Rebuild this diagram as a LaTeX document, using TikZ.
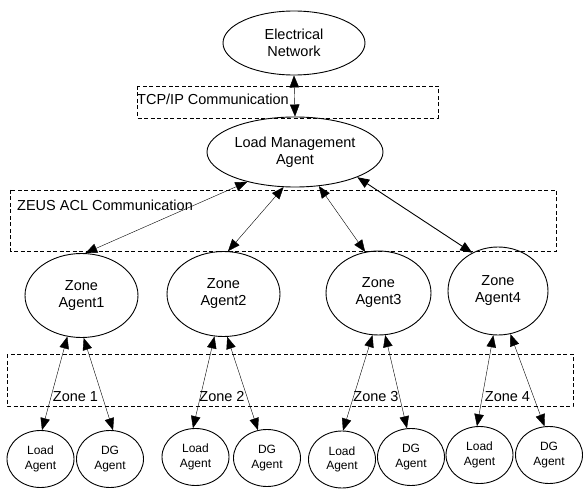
\documentclass[tikz,border=0pt]{standalone}
\usepackage{fontspec}
\setmainfont{Liberation Sans}
\usetikzlibrary{shapes.geometric,arrows.meta}

\begin{document}
\begin{tikzpicture}[x=1pt, y=-1pt,
    every node/.style={font=\fontsize{14.5}{17}\selectfont, align=center},
    agent/.style={draw, ellipse, line width=0.9pt, inner sep=0pt},
    small/.style={agent, minimum width=67pt, minimum height=57pt, font=\fontsize{12}{14.5}\selectfont},
    commbox/.style={draw, dash pattern=on 4pt off 2.5pt, line width=0.6pt},
    link/.style={{Triangle[length=12pt,width=9.5pt]}-{Triangle[length=12pt,width=9.5pt]}, line width=0.4pt}]
    \useasboundingbox (0,0) rectangle (584,489);

    % communication layers
    \draw[commbox] (137,86) rectangle (438,118);
    \draw[commbox] (10,190) rectangle (556,251);
    \draw[commbox] (7,354) rectangle (573,406);
    \node[anchor=west, inner sep=0pt] (tcp) at (137,99) {TCP/IP Communication};
    \node[anchor=west, inner sep=0pt] (zeus) at (17,205) {ZEUS ACL Communication};
    \foreach \z/\x in {1/75.5, 2/222, 3/376, 4/507.5}
        \node[inner sep=0pt] (zlab\z) at (\x,397) {Zone \z};

    % agents
    \node[agent, minimum width=142pt, minimum height=64pt] (grid) at (294,43) {Electrical\\Network};
    \node[agent, minimum width=176pt, minimum height=70pt] (lma) at (295,152) {Load Management\\Agent};
    \node[agent, minimum width=113pt, minimum height=84pt] (za1) at (81.5,295.5) {Zone\\Agent1};
    \node[agent, minimum width=113pt, minimum height=85pt] (za2) at (223.5,294) {Zone\\Agent2};
    \node[agent, minimum width=105pt, minimum height=84pt] (za3) at (378.5,293) {Zone\\Agent3};
    \node[agent, minimum width=100pt, minimum height=88pt] (za4) at (498,291) {Zone\\Agent4};

    \node[small] (load1) at (40.5,459) {Load\\Agent};
    \node[small] (dg1) at (110,459) {DG\\Agent};
    \node[small] (load2) at (195.5,457) {Load\\Agent};
    \node[small] (dg2) at (267,458) {DG\\Agent};
    \node[small] (load3) at (342,459.5) {Load\\Agent};
    \node[small] (dg3) at (411,457) {DG\\Agent};
    \node[small] (load4) at (479.5,455) {Load\\Agent};
    \node[small] (dg4) at (549,455) {DG\\Agent};

    % messages
    \draw[link] (grid.south) -- (lma.north);
    \draw[link] (lma.212) -- (za1.85);
    \draw[link] (lma.252) -- (za2.84);
    \draw[link] (lma.305) -- (za3.108);
    \draw[link, line width=0.9pt] (lma.338) -- (za4.124);
    \foreach \z/\a/\b/\c/\d in {1/251/87/273/84, 2/258/95/275/108, 3/262/88/279/98, 4/264/95/286/99}{
        \draw[link] (za\z.\a) -- (load\z.\b);
        \draw[link] (za\z.\c) -- (dg\z.\d);
    }
\end{tikzpicture}
\end{document}
